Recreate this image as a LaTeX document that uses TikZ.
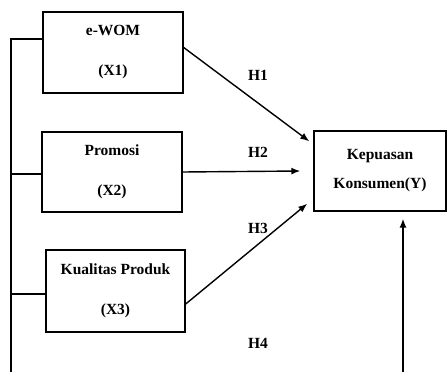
\documentclass[tikz,border=0pt]{standalone}
\usepackage{fontspec}
\setmainfont{Liberation Serif}
\usetikzlibrary{arrows.meta}

\begin{document}
\begin{tikzpicture}[x=1pt, y=-1pt, line width=1.4pt,
  every node/.style = {font=\fontsize{15.5}{17}\selectfont\bfseries},
  varbox/.style = {shape=rectangle, draw, align=center, inner sep=0pt},
  path/.style = {-{Latex[length=9pt,width=7pt]}}]
  \useasboundingbox (0,0) rectangle (448,372);
  % variables
  \node[varbox, minimum width=140pt, minimum height=81pt] (x1) at (113,52.5)
    {e-WOM\\[23pt](X1)};
  \node[varbox, minimum width=140pt, minimum height=80pt] (x2) at (112,172)
    {Promosi\\[23pt](X2)};
  \node[varbox, minimum width=139pt, minimum height=82pt] (x3) at (115.5,291)
    {Kualitas Produk\\[23pt](X3)};
  \node[varbox, minimum width=132pt, minimum height=80pt] (y) at (380,171)
    {Kepuasan\\[12pt]Konsumen(Y)};
  % left bracket
  \coordinate (top) at (11,39);
  \coordinate (bot) at (11,372);
  \coordinate (b2) at (11,174);
  \coordinate (b3) at (11,294);
  \draw (x1.west |- top) -- (top) -- (bot);
  \draw (b2) -- (x2.west |- b2);
  \draw (b3) -- (x3.west |- b3);
  % paths
  \draw[path] ([yshift=5pt]x1.east) -- ([shift={(-4pt,-11pt)}]y.north west);
  \draw[path] (x2.east) -- ([xshift=-13pt]y.west);
  \draw[path] ([yshift=-13pt]x3.east) -- ([shift={(-6pt,8pt)}]y.south west);
  \coordinate (up) at (403,372);
  \draw[path, shorten >=7pt] (up) -- (up |- y.south);
  % labels
  \node (h1) at (258,75) {H1};
  \node (h2) at (258,152) {H2};
  \node (h3) at (258,228) {H3};
  \node (h4) at (258,343) {H4};
\end{tikzpicture}
\end{document}
